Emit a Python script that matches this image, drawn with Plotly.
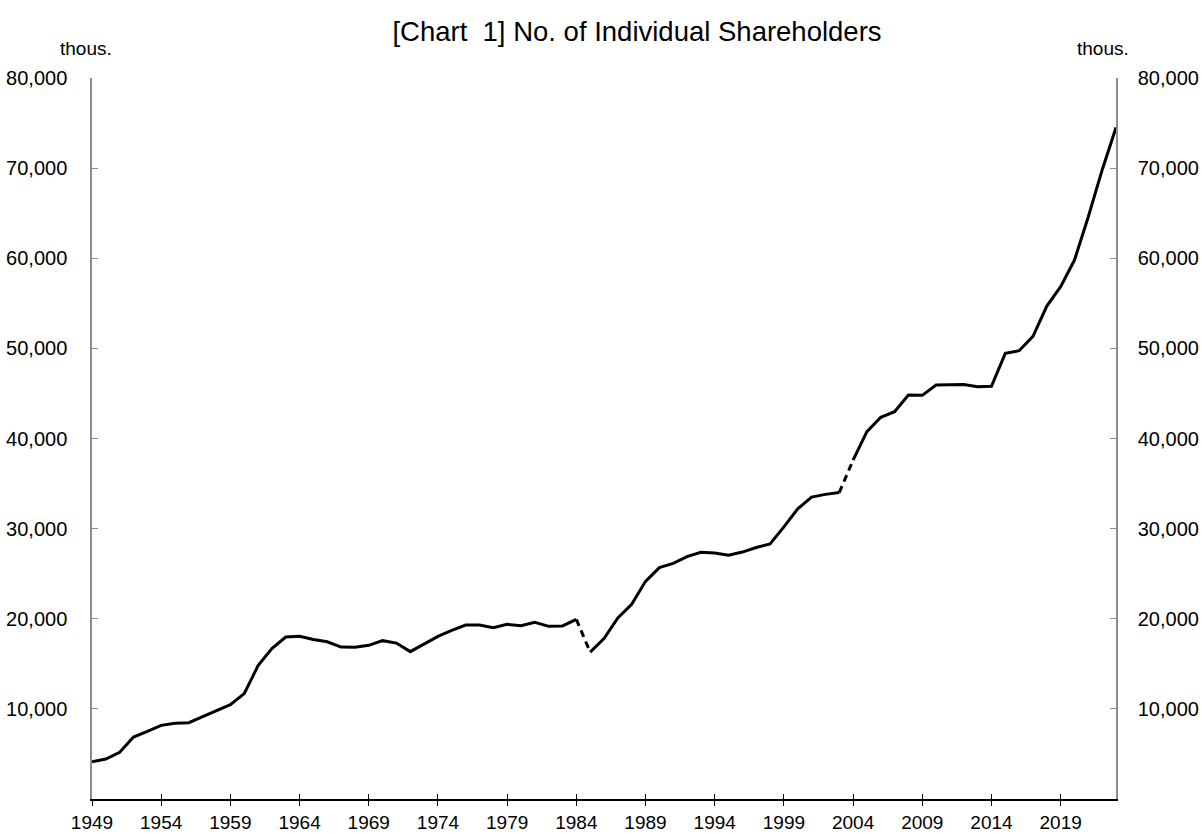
import plotly.graph_objects as go

years = list(range(1949, 2024))
shareholders = [
    4140, 4440, 5180, 6880, 7510, 8170, 8400, 8470, 9130, 9800,
    10460, 11700, 14800, 16700, 17970, 18050, 17700, 17450, 16860, 16830,
    17050, 17570, 17300, 16350, 17200, 18050, 18700, 19300, 19300, 19000,
    19380, 19230, 19600, 19160, 19200, 19930, 16300, 17800, 20080, 21600,
    24150, 25670, 26150, 26900, 27370, 27300, 27050, 27400, 27900, 28300,
    30200, 32200, 33500, 33800, 34000, 37600, 40760, 42350, 42980, 44820,
    44790, 45930, 45930, 46000, 45750, 45800, 49450, 49740, 51340, 54700,
    56840, 59800, 64600, 69800, 74500,
]
tick_years = list(range(1949, 2020, 5))
y_ticks = [10000, 20000, 30000, 40000, 50000, 60000, 70000, 80000]
y_labels = ["10,000", "20,000", "30,000", "40,000", "50,000", "60,000", "70,000", "80,000"]

# segments: (start year, end year, dashed?)
segments = [(1949, 1984, False), (1984, 1985, True), (1985, 2003, False),
            (2003, 2004, True), (2004, 2023, False)]

FONT = "Liberation Sans, Arial, sans-serif"
W, H = 1202, 834
L, R, T, B = 92, 86, 78, 35

fig = go.Figure()
for s, e, dashed in segments:
    i0, i1 = years.index(s), years.index(e)
    fig.add_trace(go.Scatter(
        x=years[i0:i1 + 1], y=shareholders[i0:i1 + 1], mode="lines",
        line=dict(color="black", width=3, dash="7px,5px" if dashed else "solid"),
        showlegend=False, hoverinfo="skip"))

# invisible traces carrying the right axis and the inside-tick x axis
fig.add_trace(go.Scatter(x=years, y=shareholders, yaxis="y2", mode="lines",
                         line=dict(width=0), showlegend=False, hoverinfo="skip"))
fig.add_trace(go.Scatter(x=years, y=shareholders, xaxis="x2", mode="lines",
                         line=dict(width=0), showlegend=False, hoverinfo="skip"))

axis_common = dict(range=[0, 80000], tickvals=y_ticks, ticktext=y_labels,
                   showgrid=False, zeroline=False, showline=True, automargin=False,
                   linecolor="#8c8c8c", linewidth=1.5, ticks="inside", ticklen=6,
                   tickcolor="#8c8c8c", tickfont=dict(family=FONT, size=20, color="black"))

fig.update_layout(
    width=W, height=H,
    paper_bgcolor="white", plot_bgcolor="white",
    margin=dict(l=L, r=R, t=T, b=B, autoexpand=False),
    title=dict(text="[Chart\u00a0\u00a01] No. of Individual Shareholders",
               xref="container", yref="container",
               x=637 / W, xanchor="center", y=1 - 31 / H, yanchor="middle",
               font=dict(family=FONT, size=27.5, color="black")),
    xaxis=dict(range=[1949, 2023], tickvals=tick_years, ticktext=[str(t) for t in tick_years],
               showgrid=False, zeroline=False, showline=True, linecolor="black",
               linewidth=1.5, ticks="outside", ticklen=5, tickcolor="black", tickwidth=1,
               automargin=False, tickfont=dict(family=FONT, size=19, color="black")),
    xaxis2=dict(range=[1949, 2023], overlaying="x", side="bottom", tickvals=tick_years,
                showticklabels=False, showgrid=False, zeroline=False, showline=False,
                automargin=False, ticks="inside", ticklen=5, tickcolor="black", tickwidth=1),
    yaxis=dict(side="left", ticklabelstandoff=19, **axis_common),
    yaxis2=dict(side="right", overlaying="y", ticklabelstandoff=16, **axis_common),
)
pw, ph = W - L - R, H - T - B
for xp in (86, 1103):
    fig.add_annotation(text="thous.", xref="paper", yref="paper",
                       x=(xp - L) / pw, y=(H - B - 48) / ph,
                       xanchor="center", yanchor="middle", showarrow=False,
                       font=dict(family=FONT, size=19, color="black"))

# remove the browser's default 8px body margin so figure coords = page coords
fig.write_html("out.html", config={"displayModeBar": False},
               post_script="document.body.style.margin='0';")
